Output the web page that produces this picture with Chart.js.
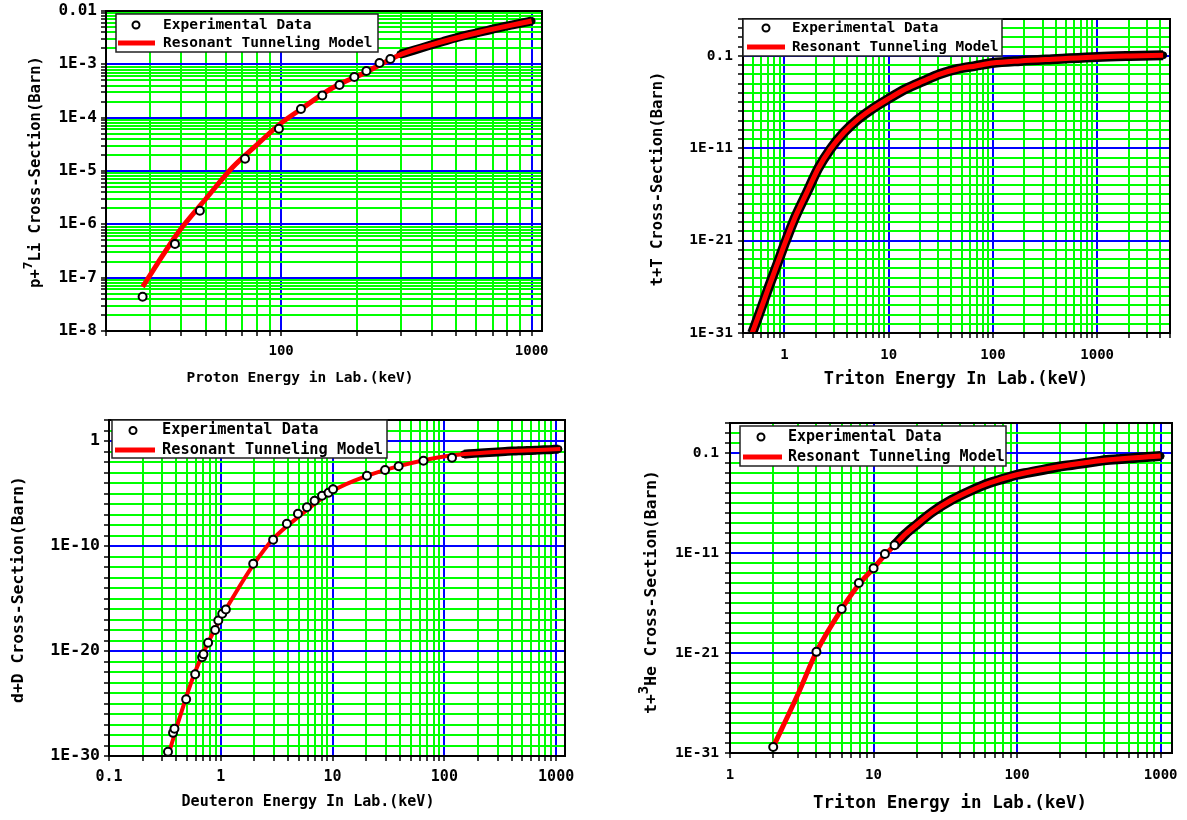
<!DOCTYPE html>
<html>
<head>
<meta charset="utf-8">
<title>Cross-section comparisons</title>
<script src="https://cdn.jsdelivr.net/npm/chart.js@4.4.1/dist/chart.umd.min.js"></script>
<style>
  body { margin: 0; background: #fff; }
  #wrap { position: relative; width: 1187px; height: 820px; overflow: hidden; }
  canvas { position: absolute; }
</style>
</head>
<body>
<div id="wrap">
  <canvas id="c1" width="590" height="410" style="left:0;top:0"></canvas>
  <canvas id="c2" width="597" height="410" style="left:590px;top:0"></canvas>
  <canvas id="c3" width="590" height="410" style="left:0;top:410px"></canvas>
  <canvas id="c4" width="597" height="410" style="left:590px;top:410px"></canvas>
</div>
<script>
// values (energy in keV, cross-section in barn)

// p + 7Li
const p1ExpEnergy = [28, 37.7, 47.4, 71.8, 98, 120, 146, 171, 196, 219, 247, 273];
const p1ExpSigma = [4.4e-8, 4.3e-7, 1.8e-6, 1.7e-5, 6.2e-5, 1.45e-4, 2.6e-4, 4.1e-4, 5.8e-4, 7.5e-4, 1.06e-3, 1.26e-3];
const p1DenseEnergy = [299, 340, 390, 440, 500, 560, 620, 690, 760, 840, 920, 1000];
const p1DenseSigma = [1.55e-3, 1.85e-3, 2.25e-3, 2.65e-3, 3.15e-3, 3.6e-3, 4.0e-3, 4.5e-3, 5.0e-3, 5.5e-3, 6.0e-3, 6.5e-3];
const p1ModelEnergy = [28, 32, 37.7, 41, 49.6, 64.2, 80, 100, 118.6, 160, 219, 297, 394, 618, 1000];
const p1ModelSigma = [6.7e-8, 1.8e-7, 5.8e-7, 9.8e-7, 2.86e-6, 1.19e-5, 3.1e-5, 7.9e-5, 1.39e-4, 3.6e-4, 7.2e-4, 1.5e-3, 2.3e-3, 4.0e-3, 6.5e-3];
const p1XLabels = ['100', '1000'];
const p1XExps = [2, 3];
const p1YLabels = ['0.01', '1E-3', '1E-4', '1E-5', '1E-6', '1E-7', '1E-8'];
const p1YExps = [-2, -3, -4, -5, -6, -7, -8];

// t + T
const p2DenseEnergy = [0.49, 0.59, 0.70, 0.84, 1.02, 1.27, 1.63, 2.12, 2.76, 3.68, 5.0, 6.7, 9.9, 14.5, 21.5, 31, 46, 68, 99, 183, 414, 1000, 2080, 4300];
const p2DenseSigma = [1e-31, 3e-29, 7e-27, 1.8e-24, 7e-22, 3.6e-19, 1.4e-16, 7.4e-14, 8.3e-12, 4.6e-10, 1.2e-8, 1.4e-7, 2.2e-6, 2.6e-5, 1.9e-4, 1.1e-3, 3.9e-3, 8.3e-3, 1.7e-2, 2.9e-2, 4.7e-2, 7.8e-2, 0.1, 0.12];
const p2ModelEnergy = [0.47, 0.49, 0.59, 0.70, 0.84, 1.02, 1.27, 1.63, 2.12, 2.76, 3.68, 5.0, 6.7, 9.9, 14.5, 21.5, 31, 46, 68, 99, 183, 414, 1000, 2080, 4300];
const p2ModelSigma = [3e-32, 1e-31, 3e-29, 7e-27, 1.8e-24, 7e-22, 3.6e-19, 1.4e-16, 7.4e-14, 8.3e-12, 4.6e-10, 1.2e-8, 1.4e-7, 2.2e-6, 2.6e-5, 1.9e-4, 1.1e-3, 3.9e-3, 8.3e-3, 1.7e-2, 2.9e-2, 4.7e-2, 7.8e-2, 0.1, 0.12];
const p2XLabels = ['1', '10', '100', '1000'];
const p2XExps = [0, 1, 2, 3];
const p2YLabels = ['0.1', '1E-11', '1E-21', '1E-31'];
const p2YExps = [-1, -11, -21, -31];

// d + D
const p3ExpEnergy = [0.337, 0.374, 0.385, 0.49, 0.59, 0.68, 0.70, 0.77, 0.89, 0.95, 1.03, 1.11, 1.95, 2.94, 3.9, 4.9, 5.9, 6.9, 8.05, 9.2, 10.1, 20.3, 29.5, 39, 65, 117];
const p3ExpSigma = [2.5e-30, 1.6e-28, 4e-28, 2.5e-25, 6e-23, 2.5e-21, 5e-21, 6e-20, 1e-18, 8e-18, 3.5e-17, 9e-17, 2e-12, 4e-10, 1.3e-8, 1.2e-7, 5e-7, 2e-6, 6e-6, 1.2e-5, 2.5e-5, 5e-4, 1.7e-3, 4e-3, 1.3e-2, 2.5e-2];
const p3DenseEnergy = [150, 200, 250, 300, 350, 400, 460, 520, 580, 650, 720, 800, 880, 960, 1050];
const p3DenseSigma = [5.5e-2, 7e-2, 8e-2, 9e-2, 0.1, 0.11, 0.115, 0.12, 0.125, 0.13, 0.14, 0.145, 0.15, 0.16, 0.17];
const p3ModelEnergy = [0.33, 0.337, 0.43, 0.565, 0.75, 0.98, 1.29, 1.94, 2.94, 5.1, 10.1, 20.4, 40, 106, 209, 412, 1090];
const p3ModelSigma = [5e-31, 1e-30, 5e-27, 3.2e-23, 3.4e-20, 9e-18, 1.4e-15, 1.4e-12, 4.7e-10, 7.6e-8, 1.8e-5, 4.8e-4, 4.3e-3, 3.8e-2, 7.2e-2, 0.11, 0.17];
const p3XLabels = ['0.1', '1', '10', '100', '1000'];
const p3XExps = [-1, 0, 1, 2, 3];
const p3YLabels = ['1', '1E-10', '1E-20', '1E-30'];
const p3YExps = [0, -10, -20, -30];

// t + 3He
const p4ExpEnergy = [2.0, 4.0, 6.0, 7.9, 10, 12, 14];
const p4ExpSigma = [4e-31, 1.3e-21, 2.5e-17, 1e-14, 3e-13, 8e-12, 6e-11];
const p4DenseEnergy = [14, 16.7, 20.2, 25.7, 35, 47, 64, 80, 98, 120, 150, 190, 240, 300, 360, 420, 500, 600, 700, 850, 1000];
const p4DenseSigma = [6e-11, 7.9e-10, 7.9e-9, 1.26e-7, 2e-6, 1.6e-5, 1e-4, 2.6e-4, 6.3e-4, 1.1e-3, 2e-3, 4e-3, 6.4e-3, 1e-2, 1.45e-2, 2e-2, 2.4e-2, 2.9e-2, 3.5e-2, 4.3e-2, 5e-2];
const p4ModelEnergy = [2.0, 3.0, 4.0, 6.0, 7.9, 10, 12, 14, 16.7, 20.2, 25.7, 35, 47, 64, 98, 190, 420, 1000];
const p4ModelSigma = [4e-31, 1e-25, 1.3e-21, 2.5e-17, 7e-15, 3e-13, 6.3e-12, 6e-11, 7.9e-10, 7.9e-9, 1.26e-7, 2e-6, 1.6e-5, 1e-4, 6.3e-4, 4e-3, 2e-2, 5e-2];
const p4XLabels = ['1', '10', '100', '1000'];
const p4XExps = [0, 1, 2, 3];
const p4YLabels = ['0.1', '1E-11', '1E-21', '1E-31'];
const p4YExps = [-1, -11, -21, -31];

const FONT = '"DejaVu Sans Mono", "Liberation Mono", monospace';
const RED = '#ff0000';
const BLUE = '#0000ff';
const GREEN = '#00ff00';

// 1..9 per decade, or only the decades
function logTicks(min, max, mults) {
    const out = [];
    for (let e = Math.floor(Math.log10(min)); e <= Math.ceil(Math.log10(max)); e++) {
        mults.forEach(m => {
            const v = m * Math.pow(10, e);
            if (v >= min * 0.9999 && v <= max * 1.0001) out.push(v);
        });
    }
    return out;
}

function decadeOf(v) {
    const l = Math.log10(v);
    const r = Math.round(l);
    return Math.abs(l - r) < 1e-6 ? r : null;
}

function labelFor(v, exps, labels) {
    const i = exps.indexOf(decadeOf(v));
    return i >= 0 ? labels[i] : '';
}

const pts = (xs, ys) => xs.map((x, i) => ({ x: x, y: ys[i] }));

const frame = {
    id: 'frame',
    afterDatasetsDraw(chart) {
        const a = chart.chartArea, ctx = chart.ctx;
        ctx.save();
        ctx.strokeStyle = '#000';
        ctx.lineWidth = 2;
        ctx.strokeRect(a.left, a.top, a.right - a.left, a.bottom - a.top);
        ctx.restore();
    }
};

const boxLegend = {
    id: 'boxLegend',
    afterDraw(chart, args, o) {
        const ctx = chart.ctx;
        const ds = chart.data.datasets;
        ctx.save();
        ctx.fillStyle = '#fff';
        ctx.fillRect(o.x, o.y, o.w, o.h);
        ctx.strokeStyle = '#222';
        ctx.lineWidth = 1.5;
        ctx.strokeRect(o.x, o.y, o.w, o.h);
        ctx.strokeStyle = '#000';
        ctx.lineWidth = 2;
        ctx.beginPath();
        ctx.arc(o.mx, o.r1, 3.5, 0, 2 * Math.PI);
        ctx.stroke();
        ctx.strokeStyle = RED;
        ctx.lineWidth = 5;
        ctx.beginPath();
        ctx.moveTo(o.lx1, o.r2);
        ctx.lineTo(o.lx2, o.r2);
        ctx.stroke();
        ctx.fillStyle = '#000';
        ctx.font = 'bold ' + o.size + 'px ' + FONT;
        ctx.textBaseline = 'middle';
        ctx.fillText(ds[0].label, o.tx, o.r1);
        ctx.fillText(ds[1].label, o.tx, o.r2);
        ctx.restore();
    }
};

const axisTitles = {
    id: 'axisTitles',
    afterDraw(chart, args, o) {
        const ctx = chart.ctx;
        ctx.save();
        ctx.fillStyle = '#000';
        ctx.textBaseline = 'middle';
        ctx.textAlign = 'center';
        ctx.font = 'bold ' + o.xSize + 'px ' + FONT;
        ctx.fillText(o.xText, o.xX, o.xY);

        ctx.translate(o.yX, o.yY);
        ctx.rotate(-Math.PI / 2);
        const big = 'bold ' + o.ySize + 'px ' + FONT;
        const small = 'bold ' + Math.round(o.ySize * 0.85) + 'px ' + FONT;
        let total = 0;
        o.yParts.forEach(p => {
            ctx.font = p[1] ? small : big;
            total += ctx.measureText(p[0]).width;
        });
        let x = -total / 2;
        ctx.textAlign = 'left';
        o.yParts.forEach(p => {
            ctx.font = p[1] ? small : big;
            ctx.fillText(p[0], x, p[1] ? -o.ySize * 0.45 : 0);
            x += ctx.measureText(p[0]).width;
        });
        ctx.restore();
    }
};

function makeChart(id, p) {
    const xTickVals = logTicks(p.xMin, p.xMax, [1, 2, 3, 4, 5, 6, 7, 8, 9]);
    const yTickVals = logTicks(p.yMin, p.yMax, p.yMults);
    const gridColor = exps => c => (c.tick && exps.indexOf(decadeOf(c.tick.value)) >= 0) ? BLUE : GREEN;

    new Chart(document.getElementById(id), {
        type: 'scatter',
        data: {
            datasets: [{
                label: 'Experimental Data',
                data: pts(p.expE, p.expS),
                showLine: false,
                pointRadius: 4,
                pointBorderWidth: 2,
                pointBorderColor: '#000',
                pointBackgroundColor: '#fff',
                order: 0
            }, {
                label: 'Resonant Tunneling Model',
                data: pts(p.modelE, p.modelS),
                showLine: true,
                borderColor: RED,
                borderWidth: p.redW,
                pointRadius: 0,
                cubicInterpolationMode: 'monotone',
                order: 1
            }, {
                label: 'Experimental Data (dense)',
                data: pts(p.denseE, p.denseS),
                showLine: true,
                borderColor: '#000',
                borderWidth: p.blackW,
                pointRadius: 3.5,
                pointBorderWidth: 1,
                pointBorderColor: '#000',
                pointBackgroundColor: '#000',
                cubicInterpolationMode: 'monotone',
                order: 2
            }]
        },
        options: {
            responsive: false,
            animation: false,
            events: [],
            layout: { autoPadding: false, padding: { left: 0, top: p.top, right: p.right, bottom: 0 } },
            plugins: {
                legend: { display: false },
                tooltip: { enabled: false },
                boxLegend: p.legend,
                axisTitles: p.titles
            },
            scales: {
                x: {
                    type: 'logarithmic',
                    position: 'bottom',
                    min: p.xMin,
                    max: p.xMax,
                    afterBuildTicks: s => { s.ticks = xTickVals.map(v => ({ value: v })); },
                    afterFit: s => { s.height = p.xH; s.paddingLeft = 0; s.paddingRight = 0; },
                    grid: { color: gridColor(p.xExps), lineWidth: 2, tickColor: '#000', tickLength: 5, tickWidth: 1.5 },
                    border: { color: '#000', width: 2 },
                    ticks: {
                        autoSkip: false, maxRotation: 0, minRotation: 0,
                        padding: p.xPad, color: '#000',
                        font: { family: FONT, size: p.xFont, weight: 'bold' },
                        callback: v => labelFor(v, p.xExps, p.xLabels)
                    }
                },
                y: {
                    type: 'logarithmic',
                    position: 'left',
                    min: p.yMin,
                    max: p.yMax,
                    afterBuildTicks: s => { s.ticks = yTickVals.map(v => ({ value: v })); },
                    afterFit: s => { s.width = p.yW; s.paddingTop = 0; s.paddingBottom = 0; },
                    grid: { color: gridColor(p.yExps), lineWidth: 2, tickColor: '#000', tickLength: 5, tickWidth: 1.5 },
                    border: { color: '#000', width: 2 },
                    ticks: {
                        autoSkip: false, padding: p.yPad, color: '#000',
                        font: { family: FONT, size: p.yFont, weight: 'bold' },
                        callback: v => labelFor(v, p.yExps, p.yLabels)
                    }
                }
            }
        },
        plugins: [frame, boxLegend, axisTitles]
    });
}

makeChart('c1', {
    expE: p1ExpEnergy, expS: p1ExpSigma, denseE: p1DenseEnergy, denseS: p1DenseSigma,
    modelE: p1ModelEnergy, modelS: p1ModelSigma,
    xMin: 20, xMax: 1100, yMin: 1e-8, yMax: 1e-2, yMults: [1, 2, 3, 4, 5, 6, 7, 8, 9],
    xLabels: p1XLabels, xExps: p1XExps, yLabels: p1YLabels, yExps: p1YExps,
    top: 11, right: 48, yW: 106, xH: 79, xPad: 7, yPad: 4, xFont: 14, yFont: 16,
    redW: 5, blackW: 9,
    legend: { x: 116, y: 14, w: 262, h: 38, mx: 136, r1: 25, r2: 43, lx1: 118, lx2: 155, tx: 163, size: 14.5 },
    titles: { xText: 'Proton Energy in Lab.(keV)', xX: 300, xY: 378, xSize: 14.5,
              yParts: [['p+', 0], ['7', 1], ['Li Cross-Section(Barn)', 0]], yX: 36, yY: 172, ySize: 15.5 }
});

makeChart('c2', {
    expE: [], expS: [], denseE: p2DenseEnergy, denseS: p2DenseSigma,
    modelE: p2ModelEnergy, modelS: p2ModelSigma,
    xMin: 0.4, xMax: 5000, yMin: 1e-31, yMax: 1e3, yMults: [1],
    xLabels: p2XLabels, xExps: p2XExps, yLabels: p2YLabels, yExps: p2YExps,
    top: 19, right: 17, yW: 153, xH: 77, xPad: 8.5, yPad: 5, xFont: 14, yFont: 14.5,
    redW: 5, blackW: 10,
    legend: { x: 153, y: 19, w: 259, h: 37, mx: 176, r1: 28, r2: 47, lx1: 157, lx2: 195, tx: 202, size: 14.3 },
    titles: { xText: 'Triton Energy In Lab.(keV)', xX: 366, xY: 380, xSize: 16.9,
              yParts: [['t+T Cross-Section(Barn)', 0]], yX: 68, yY: 179, ySize: 15.5 }
});

makeChart('c3', {
    expE: p3ExpEnergy, expS: p3ExpSigma, denseE: p3DenseEnergy, denseS: p3DenseSigma,
    modelE: p3ModelEnergy, modelS: p3ModelSigma,
    xMin: 0.1, xMax: 1200, yMin: 1e-30, yMax: 1e2, yMults: [1],
    xLabels: p3XLabels, xExps: p3XExps, yLabels: p3YLabels, yExps: p3YExps,
    top: 10, right: 25, yW: 109, xH: 64, xPad: 7, yPad: 4, xFont: 15, yFont: 16.5,
    redW: 4, blackW: 9,
    legend: { x: 112, y: 10, w: 275, h: 38, mx: 133, r1: 20.5, r2: 40, lx1: 115, lx2: 155, tx: 162, size: 15.3 },
    titles: { xText: 'Deuteron Energy In Lab.(keV)', xX: 308, xY: 392, xSize: 15,
              yParts: [['d+D Cross-Section(Barn)', 0]], yX: 18.5, yY: 179.5, ySize: 16.4 }
});

makeChart('c4', {
    expE: p4ExpEnergy, expS: p4ExpSigma, denseE: p4DenseEnergy, denseS: p4DenseSigma,
    modelE: p4ModelEnergy, modelS: p4ModelSigma,
    xMin: 1, xMax: 1200, yMin: 1e-31, yMax: 1e2, yMults: [1],
    xLabels: p4XLabels, xExps: p4XExps, yLabels: p4YLabels, yExps: p4YExps,
    top: 13, right: 15, yW: 140, xH: 67, xPad: 8.5, yPad: 6, xFont: 14, yFont: 14.6,
    redW: 5, blackW: 10,
    legend: { x: 150, y: 16, w: 266, h: 40, mx: 171, r1: 27, r2: 47, lx1: 153, lx2: 192, tx: 198, size: 15 },
    titles: { xText: 'Triton Energy in Lab.(keV)', xX: 360, xY: 393, xSize: 17.5,
              yParts: [['t+', 0], ['3', 1], ['He Cross-Section(Barn)', 0]], yX: 62, yY: 182, ySize: 16.3 }
});
</script>
</body>
</html>
